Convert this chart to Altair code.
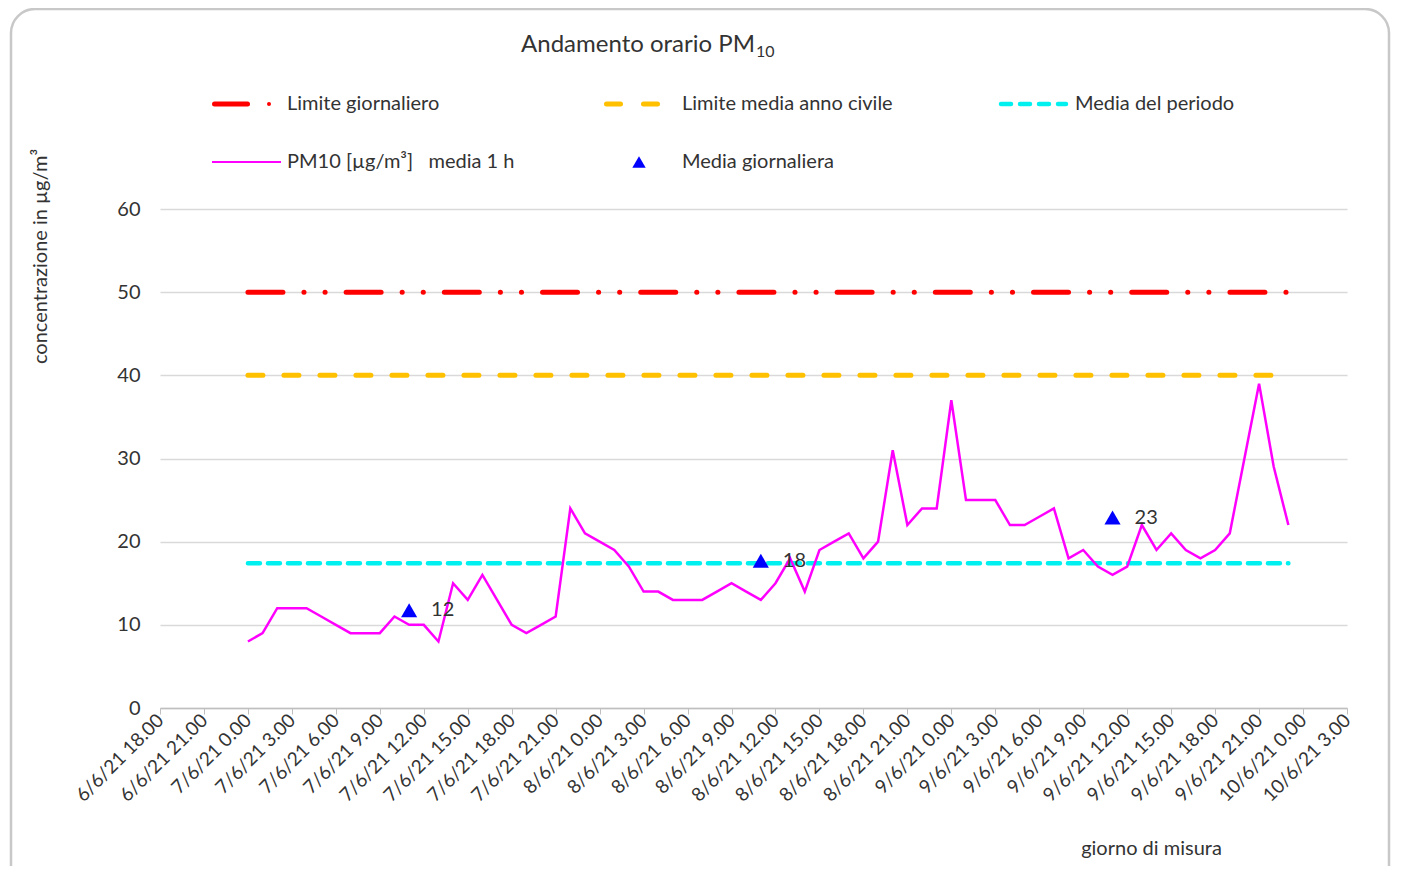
import altair as alt
import pandas as pd

# ---- data (hours counted from 7/6/21 0.00) ----
hours = list(range(72))
pm10 = [8, 9, 12, 12, 12, 11, 10, 9, 9, 9, 11, 10, 10, 8, 15, 13, 16, 13, 10, 9, 10, 11, 24, 21,
        20, 19, 17, 14, 14, 13, 13, 13, 14, 15, 14, 13, 15, 18, 14, 19, 20, 21, 18, 20, 31, 22, 24, 24,
        37, 25, 25, 25, 22, 22, 23, 24, 18, 19, 17, 16, 17, 22, 19, 21, 19, 18, 19, 21, 30, 39, 29, 22]
daily_hours = [11, 35, 59]
daily_mean = [11.75, 17.7, 22.9]
daily_labels = ["12", "18", "23"]
limite_giornaliero = 50
limite_annuo = 40
media_periodo = 17.4
x_ticks = list(range(-6, 76, 3))
y_ticks = [0, 10, 20, 30, 40, 50, 60]

legend_labels = ["Limite giornaliero", "Limite media anno civile", "Media del periodo",
                 "PM10 [µg/m³]\u00a0\u00a0 media 1 h", "Media giornaliera"]

FONT = "Lato"
TXT = "#333333"
W, H = 1187, 499

df_pm = pd.DataFrame({"h": hours, "v": pm10})
df_lim_g = pd.DataFrame({"h": hours, "v": [limite_giornaliero] * len(hours)})
df_lim_a = pd.DataFrame({"h": hours, "v": [limite_annuo] * len(hours)})
df_med = pd.DataFrame({"h": hours, "v": [media_periodo] * len(hours)})
df_day = pd.DataFrame({"h": daily_hours, "v": daily_mean, "t": daily_labels})
one = pd.DataFrame({"a": [0]})

label_expr = ("(7 + floor(datum.value/24)) + '/6/21 ' + "
              "(datum.value - 24*floor(datum.value/24)) + '.00'")

xenc = alt.X("h:Q",
             scale=alt.Scale(domain=[-6, 75], nice=False, zero=False),
             axis=alt.Axis(values=x_ticks, labelExpr=label_expr, labelAngle=-45,
                           labelAlign="right", labelBaseline="middle", labelFontSize=19,
                           labelFont=FONT, labelColor=TXT, labelPadding=3,
                           tickColor="#BFBFBF", tickSize=6, domainColor="#BFBFBF",
                           domainWidth=1.5, grid=False, labelOverlap=False,
                           labelFlush=False, labelBound=False,
                           title="giorno di misura", titleFont=FONT, titleFontSize=20,
                           titleFontWeight="normal", titleColor=TXT,
                           titleX=991, titleY=140, titleAlign="center",
                           titleBaseline="middle"))
yenc = alt.Y("v:Q",
             scale=alt.Scale(domain=[0, 60], nice=False),
             axis=alt.Axis(values=y_ticks, labelFontSize=20, labelFont=FONT,
                           labelColor=TXT, labelPadding=20, ticks=False, domain=False,
                           grid=True, gridColor="#D9D9D9", gridWidth=1.5,
                           title="concentrazione in µg/m³", titleFont=FONT,
                           titleFontSize=20, titleFontWeight="normal", titleColor=TXT,
                           titleX=-120, titleY=47, titleAngle=270, titleAlign="center",
                           titleBaseline="middle"))

red = alt.Chart(df_lim_g).mark_line(color="#FF0000", strokeWidth=5, strokeCap="round",
                                    strokeDash=[35, 21, 0.1, 21, 0.1, 21]).encode(x=xenc, y=yenc)
orange = alt.Chart(df_lim_a).mark_line(color="#FFC000", strokeWidth=5, strokeCap="round",
                                       strokeDash=[15, 21]).encode(x=xenc, y=yenc)
cyan = alt.Chart(df_med).mark_line(color="#00F0F0", strokeWidth=4.5, strokeCap="round",
                                   strokeDash=[12, 8]).encode(x=xenc, y=yenc)
line = alt.Chart(df_pm).mark_line(color="#FF00FF", strokeWidth=2.5).encode(x=xenc, y=yenc)
tri = alt.Chart(df_day).mark_point(shape="triangle-up", filled=True, color="#0000FF",
                                   size=260, opacity=1).encode(x=xenc, y=yenc)
tri_lab = alt.Chart(df_day).mark_text(align="left", baseline="middle", dx=22, font=FONT,
                                      fontSize=20, color=TXT).encode(x=xenc, y=yenc, text="t:N")

# ---- title ----
title1 = alt.Chart(one).mark_text(align="right", baseline="middle", font=FONT, fontSize=24,
                                  color=TXT).encode(x=alt.value(595), y=alt.value(-164),
                                                    text=alt.value("Andamento orario PM"))
title2 = alt.Chart(one).mark_text(align="left", baseline="middle", font=FONT, fontSize=16,
                                  color=TXT).encode(x=alt.value(596), y=alt.value(-157),
                                                    text=alt.value("10"))

# ---- legend ----
r1, r2 = -105, -47
leg = []
leg.append(alt.Chart(one).mark_rule(color="#FF0000", strokeWidth=5, strokeCap="round").encode(
    x=alt.value(54.5), x2=alt.value(87.5), y=alt.value(r1)))
leg.append(alt.Chart(one).mark_point(shape="circle", filled=True, color="#FF0000", size=16,
                                     opacity=1).encode(x=alt.value(109), y=alt.value(r1)))
leg.append(alt.Chart(one).mark_rule(color="#FFC000", strokeWidth=5, strokeCap="round",
                                    strokeDash=[14, 23]).encode(
    x=alt.value(446.5), x2=alt.value(497.5), y=alt.value(r1)))
leg.append(alt.Chart(one).mark_rule(color="#00F0F0", strokeWidth=4.5, strokeCap="round",
                                    strokeDash=[10, 9]).encode(
    x=alt.value(841), x2=alt.value(906), y=alt.value(r1)))
leg.append(alt.Chart(one).mark_rule(color="#FF00FF", strokeWidth=2).encode(
    x=alt.value(52), x2=alt.value(121), y=alt.value(r2)))
leg.append(alt.Chart(one).mark_point(shape="triangle-up", filled=True, color="#0000FF",
                                     size=180, opacity=1).encode(x=alt.value(479), y=alt.value(r2)))
for lab, lx, ly in zip(legend_labels, [127, 522, 915, 127, 522], [r1, r1, r1, r2, r2]):
    leg.append(alt.Chart(one).mark_text(align="left", baseline="middle", font=FONT,
                                        fontSize=20, color=TXT).encode(
        x=alt.value(lx), y=alt.value(ly), text=alt.value(lab)))

border = alt.Chart(one).mark_rect(fillOpacity=0, stroke="#C8C8C8", strokeWidth=2.5,
                                  cornerRadius=24).encode(
    x=alt.value(-149), x2=alt.value(1229), y=alt.value(-200), y2=alt.value(690))

chart = alt.layer(red, orange, cyan, line, tri, tri_lab, title1, title2, *leg, border).properties(
    width=W, height=H,
    autosize=alt.AutoSizeParams(type="none"),
    padding={"left": 152, "top": 201, "right": 44, "bottom": 158},
    background="white",
).configure_view(stroke=None)

chart.save("out.html", embed_options={"renderer": "svg", "actions": False})
